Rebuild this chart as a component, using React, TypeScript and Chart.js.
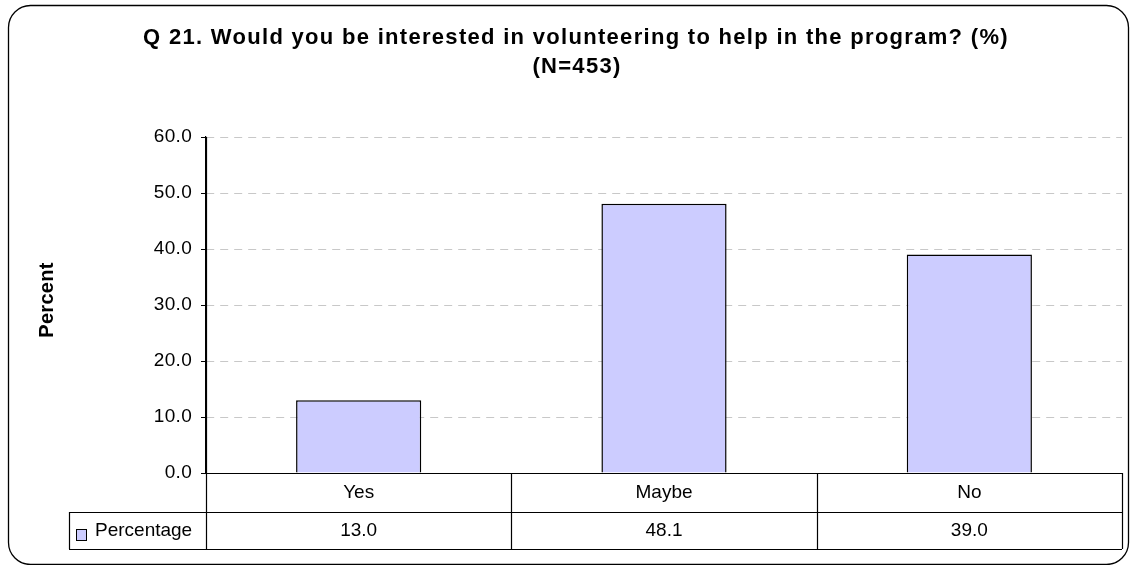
import React, { useEffect, useRef } from "react";
import { Chart, registerables } from "chart.js";

Chart.register(...registerables);

const titleLines = [
  "Q 21. Would you be interested in volunteering to help in the program? (%)",
  "(N=453)",
];
const categories = ["Yes", "Maybe", "No"];
const seriesName = "Percentage";
const values = [13.0, 48.1, 39.0];
const yMin = 0;
const yMax = 60;
const yStep = 10;
const yTitle = "Percent";

const FONT = "'Liberation Sans', Arial, sans-serif";
const BAR_FILL = "#CCCCFF";

export default function App() {
  const ref = useRef<HTMLCanvasElement>(null);

  useEffect(() => {
    document.body.style.margin = "0";
    const canvas = ref.current!;

    const decor = {
      id: "decor",
      beforeDraw(chart: any) {
        const ctx = chart.ctx as CanvasRenderingContext2D;
        ctx.save();
        ctx.fillStyle = "#fff";
        ctx.fillRect(0, 0, chart.width, chart.height);
        ctx.restore();
        (ctx as any).letterSpacing = "0.3px";
      },
      afterDraw(chart: any) {
        const ctx = chart.ctx as CanvasRenderingContext2D;
        const area = chart.chartArea;
        const xs = chart.scales.x;
        const n = categories.length;
        const cw = (area.right - area.left) / n;
        const row1Top = area.bottom;
        const row1Bot = area.bottom + 39;
        const row2Bot = area.bottom + 76;
        const tableLeft = 69;

        ctx.save();
        // frame
        ctx.strokeStyle = "#000";
        ctx.lineWidth = 1.3;
        ctx.beginPath();
        (ctx as any).roundRect(8.5, 5.5, 1120, 559, 22);
        ctx.stroke();

        // title
        ctx.fillStyle = "#000";
        ctx.font = `bold 22px ${FONT}`;
        (ctx as any).letterSpacing = "1.3px";
        ctx.textAlign = "center";
        ctx.textBaseline = "alphabetic";
        ctx.fillText(titleLines[0], 576, 44);
        ctx.fillText(titleLines[1], 577, 73);

        // y axis title
        ctx.save();
        ctx.font = `bold 20px ${FONT}`;
        (ctx as any).letterSpacing = "0.3px";
        ctx.translate(47, 300);
        ctx.rotate(-Math.PI / 2);
        ctx.textAlign = "center";
        ctx.textBaseline = "middle";
        ctx.fillText(yTitle, 0, 0);
        ctx.restore();

        // data table lines
        ctx.lineWidth = 1.2;
        ctx.strokeStyle = "#000";
        ctx.beginPath();
        ctx.moveTo(area.left, row1Top + 0.5);
        ctx.lineTo(area.right, row1Top + 0.5);
        ctx.moveTo(tableLeft, row1Bot + 0.5);
        ctx.lineTo(area.right, row1Bot + 0.5);
        ctx.moveTo(tableLeft, row2Bot + 0.5);
        ctx.lineTo(area.right, row2Bot + 0.5);
        ctx.moveTo(tableLeft + 0.5, row1Bot);
        ctx.lineTo(tableLeft + 0.5, row2Bot);
        for (let i = 0; i <= n; i++) {
          const x = Math.round(area.left + i * cw) + 0.5;
          ctx.moveTo(x, i === 0 ? area.top : row1Top);
          ctx.lineTo(x, row2Bot);
        }
        ctx.stroke();

        // table text
        ctx.font = `19px ${FONT}`;
        (ctx as any).letterSpacing = "0px";
        ctx.textAlign = "center";
        ctx.textBaseline = "middle";
        for (let i = 0; i < n; i++) {
          const cx = xs.getPixelForValue(i);
          ctx.fillText(categories[i], cx, row1Top + 20);
          ctx.fillText(values[i].toFixed(1), cx, row1Bot + 19);
        }
        // legend key
        ctx.fillStyle = BAR_FILL;
        ctx.fillRect(76.5, 529.5, 10, 11);
        ctx.strokeStyle = "#000";
        ctx.lineWidth = 1;
        ctx.strokeRect(76.5, 529.5, 10, 11);
        ctx.fillStyle = "#000";
        ctx.textAlign = "left";
        ctx.fillText(seriesName, 95, row1Bot + 19);
        ctx.restore();
      },
    };

    const chart = new Chart(canvas, {
      type: "bar",
      data: {
        labels: categories,
        datasets: [
          {
            label: seriesName,
            data: values,
            backgroundColor: BAR_FILL,
            borderColor: "#000",
            borderWidth: 1.5,
            barPercentage: 0.41,
            categoryPercentage: 1,
          },
        ],
      },
      options: {
        responsive: false,
        animation: false,
        devicePixelRatio: 1,
        layout: { padding: { top: 137, right: 8, left: 0, bottom: 0 } },
        plugins: {
          legend: { display: false },
          title: { display: false },
          tooltip: { enabled: false },
        },
        scales: {
          x: {
            grid: { display: false },
            ticks: { display: false },
            border: { display: false },
            afterFit: (s: any) => {
              s.height = 92;
            },
          },
          y: {
            min: yMin,
            max: yMax,
            ticks: {
              stepSize: yStep,
              callback: (v: any) => Number(v).toFixed(1),
              color: "#000",
              font: { family: FONT, size: 19 },
              padding: 9,
            },
            grid: {
              color: (c: any) => (c.index === 0 ? "rgba(0,0,0,0)" : "#c8c8c8"),
              lineWidth: 1,
              tickLength: 5,
              tickColor: "#000",
              tickWidth: 1,
              tickBorderDash: [],
              drawTicks: true,
            },
            border: { display: true, color: "#000", width: 1.2, dash: [8, 6] },
            title: { display: false },
            afterFit: (s: any) => {
              s.width = 206;
            },
          },
        },
      },
      plugins: [decor],
    });

    return () => chart.destroy();
  }, []);

  return (
    <canvas
      ref={ref}
      width={1130}
      height={565}
      style={{ display: "block", width: 1130, height: 565 }}
    />
  );
}
